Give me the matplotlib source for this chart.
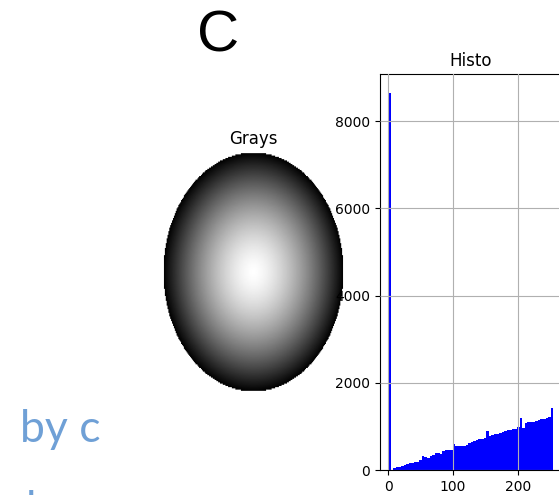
import numpy as np
import matplotlib
matplotlib.use("Agg")
import matplotlib.pyplot as plt

# histogram of the gray image: 64 bins over 0..255
bin_edges = np.linspace(0, 255, 65)
counts = [8650, 10, 40, 60, 70, 90, 110, 130, 150, 160, 180, 190, 220, 320, 290, 280,
          330, 350, 380, 390, 360, 430, 450, 460, 470, 600, 550, 550, 560, 560, 580, 610,
          650, 660, 680, 700, 720, 730, 890, 790, 800, 820, 830, 860, 880, 900, 910, 920,
          940, 950, 980, 1190, 970, 1080, 1090, 1100, 1110, 1130, 1150, 1160, 1180, 1200,
          1220, 1420]
x_ticks = [0, 100, 200]
y_ticks = [0, 2000, 4000, 6000, 8000]

# shaded disk picture shown in the "Grays" panel
n = 200
xx, yy = np.meshgrid(np.linspace(-1, 1, n), np.linspace(-1, 1, n))
rr = np.sqrt(xx ** 2 + yy ** 2)
disk = np.ma.masked_where(rr > 1, 255 * (1 - np.clip(rr, 0, 1) ** 1.5))

fig = plt.figure(figsize=(5.59, 4.95), dpi=100)

# slide text behind the figure
fig.text(218 / 559, 1 - 36 / 495, "C", fontsize=42, family="Liberation Sans",
         ha="center", va="center", color="black")
fig.text(20 / 559, 1 - 442 / 495, "by c", fontsize=32, family="Lato",
         ha="left", va="baseline", color="#6fa0d6")
fig.text(26 / 559, 1 - 490 / 495, "l", fontsize=32, family="Lato",
         ha="left", va="top", color="#6fa0d6")

ax1 = fig.add_axes([163 / 559, 1 - 392 / 495, 181 / 559, 240 / 495])
ax1.imshow(disk, cmap="gray", vmin=0, vmax=255, aspect="auto")
ax1.axis("off")
ax1.set_title("Grays", fontsize=12)

ax2 = fig.add_axes([380 / 559, 1 - 470 / 495, 181.5 / 559, 396 / 495])
ax2.hist(bin_edges[:-1], bins=bin_edges, weights=counts, color="blue")
ax2.set_xticks(x_ticks)
ax2.set_yticks(y_ticks)
ax2.tick_params(labelsize=10)
ax2.grid(True)
ax2.set_axisbelow(False)
ax2.set_title("Histo", fontsize=12)

fig.savefig("out.png", dpi=100)
